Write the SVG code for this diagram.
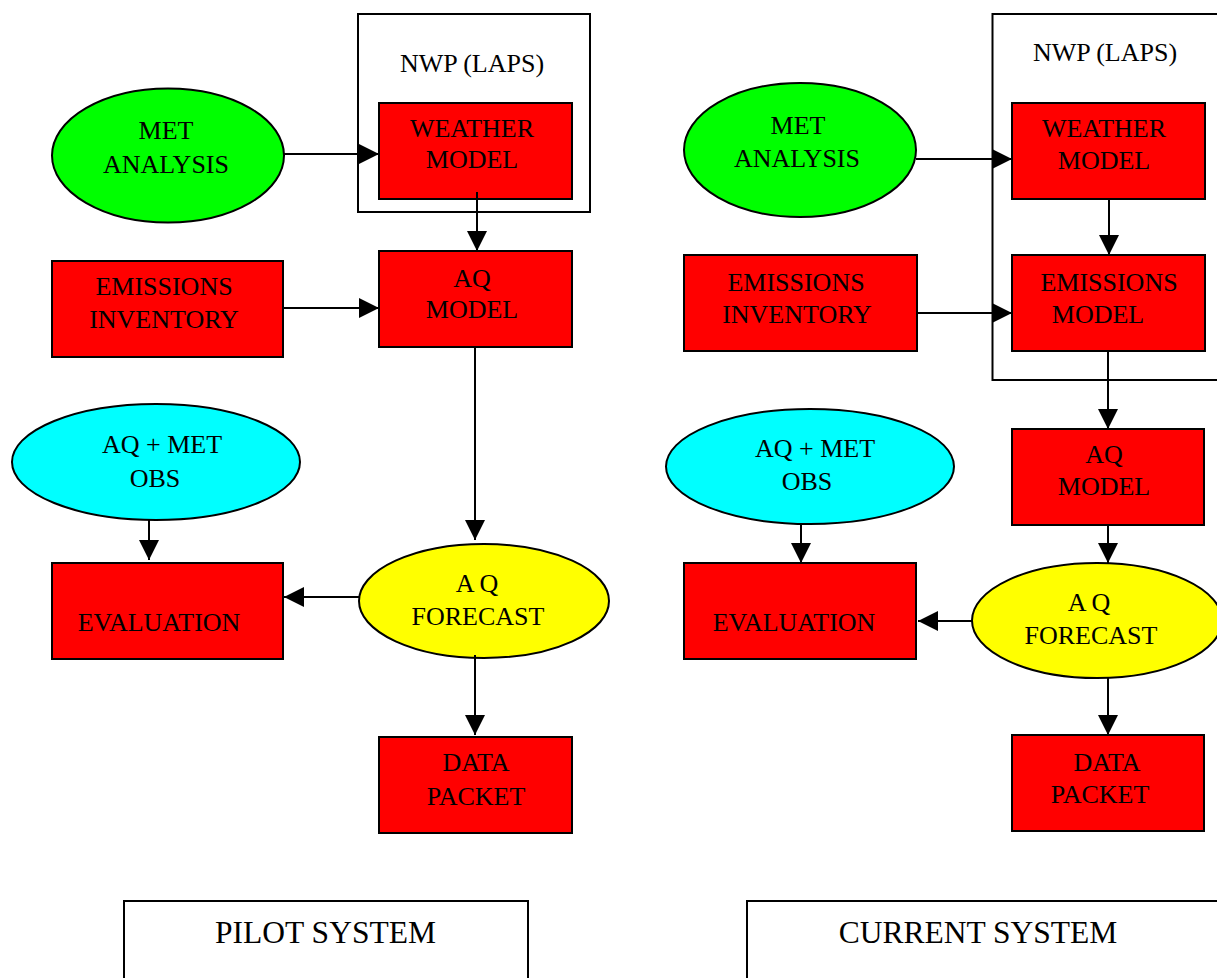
<svg xmlns="http://www.w3.org/2000/svg" width="1217" height="978" viewBox="0 0 1217 978">
<style>
text{font-family:"Liberation Serif","Times New Roman",serif;font-size:26px;fill:#000;text-anchor:middle}
.sys{font-size:31.5px}
.box{fill:#fff;stroke:#000;stroke-width:2}
.red{fill:#ff0000;stroke:#000;stroke-width:2}
.green{fill:#00ff00;stroke:#000;stroke-width:2}
.cyan{fill:#00ffff;stroke:#000;stroke-width:2}
.yellow{fill:#ffff00;stroke:#000;stroke-width:2}
.c{fill:none;stroke:#000;stroke-width:2;marker-end:url(#ah)}
</style>
<defs>
<marker id="ah" markerUnits="userSpaceOnUse" markerWidth="20" markerHeight="20" refX="20" refY="10" orient="auto">
<path d="M0,0 L20,10 L0,20 z" fill="#000"/>
</marker>
</defs>
<rect width="1217" height="978" fill="#fff"/>
<!-- LEFT: PILOT SYSTEM -->
<g id="nwp-left"><rect class="box" x="358" y="14" width="232" height="198"/><text x="472" y="72">NWP (LAPS)</text></g>
<g id="met-left"><ellipse class="green" cx="168" cy="155.5" rx="116" ry="67"/><text x="166" y="139">MET</text><text x="166" y="173">ANALYSIS</text></g>
<g id="weather-left"><rect class="red" x="379" y="103" width="193" height="96"/><text x="472" y="137">WEATHER</text><text x="472" y="168">MODEL</text></g>
<g id="emis-left"><rect class="red" x="52" y="261" width="231" height="96"/><text x="164" y="295">EMISSIONS</text><text x="164" y="328">INVENTORY</text></g>
<g id="aqmodel-left"><rect class="red" x="379" y="251" width="193" height="96"/><text x="472" y="287">AQ</text><text x="472" y="318">MODEL</text></g>
<g id="obs-left"><ellipse class="cyan" cx="156" cy="462" rx="144" ry="58"/><text x="162" y="453">AQ + MET</text><text x="155" y="487">OBS</text></g>
<g id="eval-left"><rect class="red" x="52" y="563" width="231" height="96"/><text x="159" y="631">EVALUATION</text></g>
<g id="forecast-left"><ellipse class="yellow" cx="484" cy="601" rx="125" ry="57"/><text x="477" y="592">A Q</text><text x="478" y="625">FORECAST</text></g>
<g id="data-left"><rect class="red" x="379" y="737" width="193" height="96"/><text x="476" y="771">DATA</text><text x="476" y="805">PACKET</text></g>
<g id="pilot"><rect class="box" x="124" y="901" width="404" height="100"/><text class="sys" x="325.5" y="943">PILOT SYSTEM</text></g>
<!-- RIGHT: CURRENT SYSTEM -->
<g id="nwp-right"><rect class="box" x="992.5" y="14" width="300" height="366"/><text x="1105" y="61">NWP (LAPS)</text></g>
<g id="met-right"><ellipse class="green" cx="800" cy="150" rx="116" ry="67"/><text x="798" y="134">MET</text><text x="797" y="167">ANALYSIS</text></g>
<g id="weather-right"><rect class="red" x="1012" y="103" width="193" height="96"/><text x="1104" y="137">WEATHER</text><text x="1104" y="169">MODEL</text></g>
<g id="emis-inv-right"><rect class="red" x="684" y="255" width="233" height="96"/><text x="796" y="291">EMISSIONS</text><text x="797" y="323">INVENTORY</text></g>
<g id="emis-model-right"><rect class="red" x="1012" y="255" width="193" height="96"/><text x="1109" y="291">EMISSIONS</text><text x="1098" y="323">MODEL</text></g>
<g id="aqmodel-right"><rect class="red" x="1012" y="429" width="192" height="96"/><text x="1104" y="463">AQ</text><text x="1104" y="495">MODEL</text></g>
<g id="obs-right"><ellipse class="cyan" cx="810" cy="466.5" rx="144" ry="57.5"/><text x="815" y="457">AQ + MET</text><text x="807" y="490">OBS</text></g>
<g id="eval-right"><rect class="red" x="684" y="563" width="232" height="96"/><text x="794" y="631">EVALUATION</text></g>
<g id="forecast-right"><ellipse class="yellow" cx="1097" cy="620.5" rx="125" ry="57.5"/><text x="1089" y="611">A Q</text><text x="1091" y="644">FORECAST</text></g>
<g id="data-right"><rect class="red" x="1012" y="735" width="192" height="96"/><text x="1107" y="771">DATA</text><text x="1100" y="803">PACKET</text></g>
<g id="current"><rect class="box" x="747" y="901" width="520" height="100"/><text class="sys" x="978" y="943">CURRENT SYSTEM</text></g>
<g id="connectors">
<path class="c" d="M283,154 H379"/>
<path class="c" d="M477,192 V251"/>
<path class="c" d="M283,308 H379"/>
<path class="c" d="M475,347 V540"/>
<path class="c" d="M149,520 V560"/>
<path class="c" d="M359,597 H284"/>
<path class="c" d="M475,655 V735"/>
<path class="c" d="M916,159 H1012"/>
<path class="c" d="M1109,199 V255"/>
<path class="c" d="M917,313 H1012"/>
<path class="c" d="M1108,351 V429"/>
<path class="c" d="M1108,525 V563"/>
<path class="c" d="M801,524 V563"/>
<path class="c" d="M972,621 H918"/>
<path class="c" d="M1108,678 V735"/>
</g>
</svg>
